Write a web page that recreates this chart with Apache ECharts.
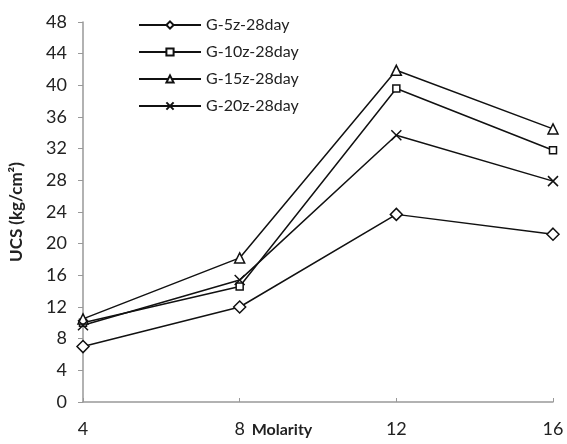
<!DOCTYPE html>
<html><head><meta charset="utf-8">
<script src="https://cdn.jsdelivr.net/npm/echarts@6/dist/echarts.min.js"></script>
<style>html,body{margin:0;padding:0;background:#fff}#c{width:567px;height:444px}</style>
</head><body><div id="c"></div>
<script>
var molarity = [4, 8, 12, 16];
var seriesNames = ['G-5z-28day', 'G-10z-28day', 'G-15z-28day', 'G-20z-28day'];
var g5z = [7.0, 12.0, 23.7, 21.2];
var g10z = [10.0, 14.6, 39.6, 31.8];
var g15z = [10.5, 18.2, 41.9, 34.5];
var g20z = [9.7, 15.4, 33.7, 27.9];
var yTicks = [0, 4, 8, 12, 16, 20, 24, 28, 32, 36, 40, 44, 48];

var FONT = 'Lato';
var symbols = ['diamond', 'rect', 'triangle', 'path://M0,0L10,10M10,0L0,10'];
var sizes = [12, 7, 10, 10];
var data = [g5z, g10z, g15z, g20z];

var chart = echarts.init(document.getElementById('c'));
chart.setOption({
  animation: false,
  textStyle: {fontFamily: FONT},
  grid: {left: 83, right: 14, top: 22, bottom: 42, outerBoundsMode: 'none', containLabel: false},
  legend: {
    orient: 'vertical', left: 133, top: 12,
    itemWidth: 62, itemHeight: 9, itemGap: 11,
    data: seriesNames,
    textStyle: {fontFamily: FONT, fontSize: 16, color: '#222'}
  },
  xAxis: {
    type: 'value', min: 4, max: 16, interval: 4,
    name: 'Molarity', nameLocation: 'middle', nameGap: 20, nameMoveOverlap: false,
    nameTextStyle: {fontFamily: FONT, fontSize: 16, fontWeight: 'bold', color: '#222', padding: [0, 72, 0, 0]},
    axisLine: {lineStyle: {color: '#999', width: 1.5}},
    axisTick: {show: true, inside: true, length: 4, lineStyle: {color: '#999'}},
    axisLabel: {fontFamily: FONT, fontSize: 18, color: '#222', margin: 18},
    splitLine: {show: false}
  },
  yAxis: {
    type: 'value', min: 0, max: 48, interval: 4,
    name: 'UCS (kg/cm²)', nameLocation: 'middle', nameGap: 58, nameMoveOverlap: false,
    nameTextStyle: {fontFamily: FONT, fontSize: 17, fontWeight: 'bold', color: '#222'},
    axisLine: {show: true, lineStyle: {color: '#999', width: 1.5}},
    axisTick: {show: true, length: 5, lineStyle: {color: '#999'}},
    axisLabel: {fontFamily: FONT, fontSize: 18, color: '#222', margin: 16},
    splitLine: {show: false}
  },
  series: seriesNames.map(function (n, i) {
    return {
      name: n, type: 'line',
      data: molarity.map(function (m, j) { return [m, data[i][j]]; }),
      symbol: symbols[i], symbolSize: sizes[i],
      showAllSymbol: true,
      lineStyle: {color: '#111', width: 1.5},
      itemStyle: {color: '#fff', borderColor: '#111', borderWidth: 1.5}
    };
  })
});
</script></body></html>
